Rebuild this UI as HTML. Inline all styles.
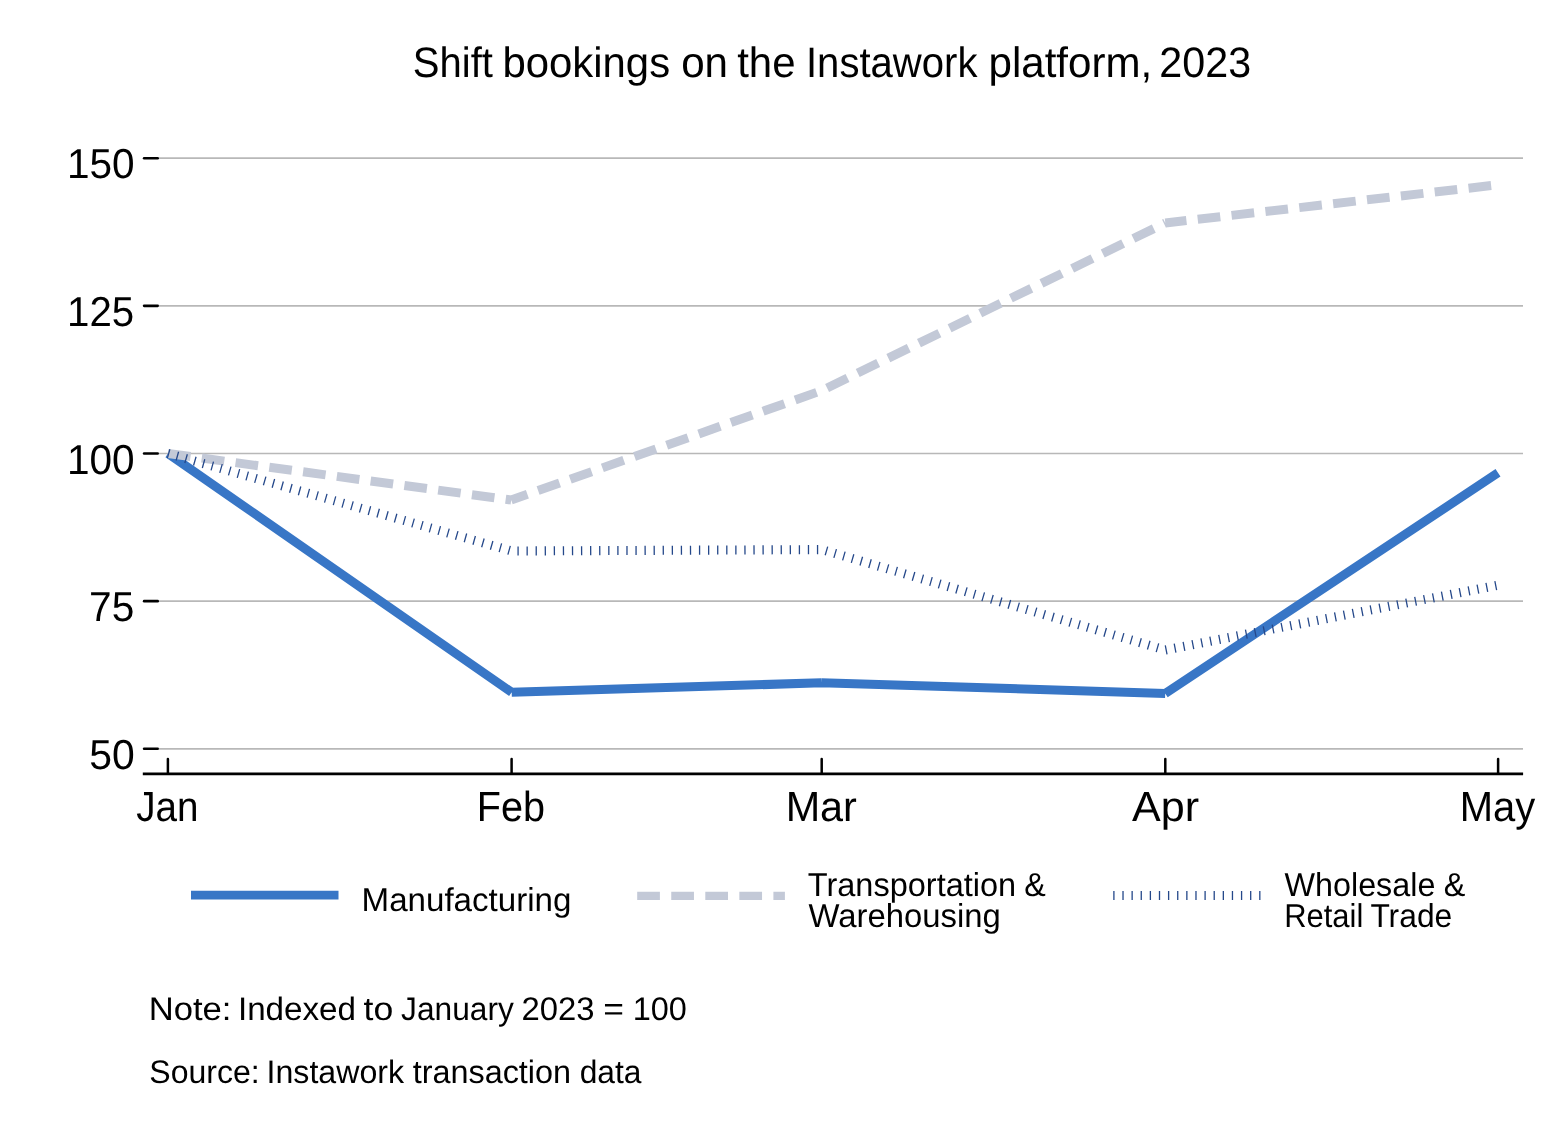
<!DOCTYPE html>
<html lang="en"><head><meta charset="utf-8"><title>Shift bookings on the Instawork platform, 2023</title>
<style>html,body{margin:0;padding:0;background:#fff;overflow:hidden}svg{display:block}text{font-family:"Liberation Sans",sans-serif;fill:#000;text-rendering:geometricPrecision}</style></head><body>
<svg width="1564" height="1138" viewBox="0 0 1564 1138">
<rect width="1564" height="1138" fill="#fff"/>
<line x1="159" x2="1523" y1="158.20" y2="158.20" stroke="#B8B8B8" stroke-width="1.7"/>
<line x1="159" x2="1523" y1="305.85" y2="305.85" stroke="#B8B8B8" stroke-width="1.7"/>
<line x1="159" x2="1523" y1="453.50" y2="453.50" stroke="#B8B8B8" stroke-width="1.7"/>
<line x1="159" x2="1523" y1="601.15" y2="601.15" stroke="#B8B8B8" stroke-width="1.7"/>
<line x1="159" x2="1523" y1="748.80" y2="748.80" stroke="#B8B8B8" stroke-width="1.7"/>
<line x1="144.1" x2="157.7" y1="158.20" y2="158.20" stroke="#000" stroke-width="2.6" stroke-linecap="round"/>
<line x1="144.1" x2="157.7" y1="305.85" y2="305.85" stroke="#000" stroke-width="2.6" stroke-linecap="round"/>
<line x1="144.1" x2="157.7" y1="453.50" y2="453.50" stroke="#000" stroke-width="2.6" stroke-linecap="round"/>
<line x1="144.1" x2="157.7" y1="601.15" y2="601.15" stroke="#000" stroke-width="2.6" stroke-linecap="round"/>
<line x1="144.1" x2="157.7" y1="748.80" y2="748.80" stroke="#000" stroke-width="2.6" stroke-linecap="round"/>
<line x1="142.8" x2="1523.1" y1="773.85" y2="773.85" stroke="#000" stroke-width="2.6"/>
<line x1="167.90" x2="167.90" y1="759.1" y2="773.8" stroke="#000" stroke-width="2.5" stroke-linecap="round"/>
<line x1="511.60" x2="511.60" y1="759.1" y2="773.8" stroke="#000" stroke-width="2.5" stroke-linecap="round"/>
<line x1="821.70" x2="821.70" y1="759.1" y2="773.8" stroke="#000" stroke-width="2.5" stroke-linecap="round"/>
<line x1="1165.30" x2="1165.30" y1="759.1" y2="773.8" stroke="#000" stroke-width="2.5" stroke-linecap="round"/>
<line x1="1498.10" x2="1498.10" y1="759.1" y2="773.8" stroke="#000" stroke-width="2.5" stroke-linecap="round"/>
<path d="M168.00 453.50L511.70 692.30M511.70 692.30L821.50 682.80M821.50 682.80L1165.20 693.40M1165.20 693.40L1498.00 472.80" stroke="#3876C6" stroke-width="9" fill="none"/>
<path d="M168.00 453.50L190.52 456.55M201.77 458.08L224.29 461.13M235.54 462.65L258.06 465.70M269.31 467.23L291.83 470.28M303.07 471.80L325.60 474.85M336.84 476.38L359.37 479.43M370.61 480.95L393.13 484.00M404.38 485.53L426.90 488.58M438.15 490.10L460.67 493.15M471.92 494.68L494.44 497.73M505.68 499.25L511.20 500.00M511.20 500.00L527.39 494.30M538.09 490.53L559.53 482.97M570.23 479.20L591.67 471.65M602.37 467.88L623.81 460.32M634.51 456.55L655.95 449.00M666.65 445.23L688.09 437.68M698.79 433.90L720.23 426.35M730.93 422.58L752.37 415.03M763.07 411.26L784.51 403.70M795.21 399.93L816.65 392.38M827.09 387.97L847.52 378.01M857.72 373.03L878.15 363.07M888.34 358.09L908.77 348.13M918.97 343.15L939.40 333.19M949.60 328.21L970.03 318.25M980.23 313.27L1000.66 303.31M1010.85 298.33L1031.28 288.37M1041.48 283.40L1061.91 273.43M1072.11 268.46L1092.54 258.49M1102.74 253.52L1123.17 243.55M1133.37 238.58L1153.79 228.61M1163.99 223.64L1165.30 223.00M1165.30 223.00L1186.44 220.57M1197.71 219.28L1220.29 216.69M1231.56 215.39L1254.15 212.80M1265.42 211.50L1288.00 208.91M1299.27 207.62L1321.85 205.02M1333.13 203.73L1355.71 201.14M1366.98 199.84L1389.56 197.25M1400.84 195.96L1423.42 193.36M1434.69 192.07L1457.27 189.48M1468.55 188.18L1491.13 185.59" stroke="#C3C9D7" stroke-width="9" fill="none"/>
<path d="M168.00 453.50L169.25 453.85M176.73 455.98L177.98 456.33M185.46 458.45L186.71 458.81M194.19 460.93L195.44 461.29M202.92 463.41L204.17 463.76M211.65 465.89L212.90 466.24M220.38 468.36L221.63 468.72M229.11 470.84L230.36 471.20M237.84 473.32L239.09 473.67M246.57 475.80L247.82 476.15M255.30 478.27L256.55 478.63M264.03 480.75L265.28 481.11M272.76 483.23L274.01 483.58M281.49 485.71L282.74 486.06M290.22 488.18L291.48 488.54M298.95 490.66L300.21 491.01M307.69 493.14L308.94 493.49M316.42 495.61L317.67 495.97M325.15 498.09L326.40 498.45M333.88 500.57L335.13 500.92M342.61 503.05L343.86 503.40M351.34 505.52L352.59 505.88M360.07 508.00L361.32 508.36M368.80 510.48L370.05 510.83M377.53 512.96L378.78 513.31M386.26 515.43L387.51 515.79M394.99 517.91L396.24 518.27M403.72 520.39L404.97 520.74M412.45 522.86L413.70 523.22M421.18 525.34L422.43 525.70M429.91 527.82L431.16 528.17M438.64 530.30L439.89 530.65M447.37 532.77L448.62 533.13M456.10 535.25L457.35 535.61M464.83 537.73L466.08 538.08M473.56 540.21L474.81 540.56M482.29 542.68L483.54 543.04M491.02 545.16L492.27 545.52M499.75 547.64L501.00 547.99M508.48 550.12L509.73 550.47M517.43 550.97L518.73 550.97M526.51 550.93L527.81 550.93M535.58 550.89L536.88 550.89M544.66 550.85L545.96 550.84M553.73 550.81L555.03 550.80M562.81 550.77L564.11 550.76M571.88 550.73L573.18 550.72M580.96 550.69L582.26 550.68M590.03 550.65L591.33 550.64M599.11 550.61L600.41 550.60M608.18 550.56L609.48 550.56M617.26 550.52L618.56 550.52M626.33 550.48L627.63 550.48M635.41 550.44L636.71 550.44M644.48 550.40L645.78 550.39M653.56 550.36L654.86 550.35M662.63 550.32L663.93 550.31M671.71 550.28L673.01 550.27M680.78 550.24L682.08 550.23M689.86 550.20L691.16 550.19M698.93 550.15L700.23 550.15M708.01 550.11L709.31 550.11M717.08 550.07L718.38 550.07M726.16 550.03L727.46 550.03M735.23 549.99L736.53 549.99M744.31 549.95L745.61 549.94M753.38 549.91L754.68 549.90M762.46 549.87L763.76 549.86M771.53 549.83L772.83 549.82M780.61 549.79L781.91 549.78M789.68 549.75L790.98 549.74M798.76 549.70L800.06 549.70M807.83 549.66L809.13 549.66M816.91 549.62L818.21 549.62M825.82 550.75L827.07 551.11M834.53 553.29L835.78 553.66M843.24 555.84L844.49 556.20M851.95 558.39L853.20 558.75M860.66 560.93L861.91 561.30M869.37 563.48L870.62 563.84M878.08 566.03L879.33 566.39M886.79 568.57L888.04 568.94M895.50 571.12L896.75 571.48M904.21 573.67L905.46 574.03M912.92 576.21L914.17 576.58M921.63 578.76L922.88 579.12M930.34 581.31L931.59 581.67M939.05 583.85L940.30 584.22M947.76 586.40L949.01 586.76M956.47 588.95L957.72 589.31M965.18 591.49L966.43 591.86M973.89 594.04L975.14 594.40M982.60 596.58L983.85 596.95M991.31 599.13L992.56 599.50M1000.02 601.68L1001.27 602.04M1008.73 604.22L1009.98 604.59M1017.45 606.77L1018.69 607.14M1026.16 609.32L1027.40 609.68M1034.87 611.86L1036.11 612.23M1043.58 614.41L1044.82 614.78M1052.29 616.96L1053.53 617.32M1061.00 619.50L1062.24 619.87M1069.71 622.05L1070.95 622.42M1078.42 624.60L1079.67 624.96M1087.13 627.14L1088.38 627.51M1095.84 629.69L1097.09 630.06M1104.55 632.24L1105.80 632.60M1113.26 634.78L1114.51 635.15M1121.97 637.33L1123.22 637.70M1130.68 639.88L1131.93 640.24M1139.39 642.42L1140.64 642.79M1148.10 644.97L1149.35 645.34M1156.81 647.52L1158.06 647.88M1165.53 649.96L1166.80 649.71M1174.43 648.22L1175.71 647.97M1183.34 646.49L1184.62 646.24M1192.25 644.75L1193.52 644.50M1201.16 643.02L1202.43 642.77M1210.06 641.28L1211.34 641.03M1218.97 639.55L1220.25 639.30M1227.88 637.81L1229.16 637.56M1236.79 636.08L1238.06 635.83M1245.69 634.34L1246.97 634.09M1254.60 632.61L1255.88 632.36M1263.51 630.87L1264.79 630.62M1272.42 629.14L1273.69 628.89M1281.33 627.40L1282.60 627.15M1290.23 625.67L1291.51 625.42M1299.14 623.93L1300.42 623.68M1308.05 622.20L1309.32 621.95M1316.96 620.46L1318.23 620.21M1325.86 618.73L1327.14 618.48M1334.77 616.99L1336.05 616.74M1343.68 615.26L1344.95 615.01M1352.59 613.52L1353.86 613.27M1361.49 611.79L1362.77 611.54M1370.40 610.05L1371.68 609.80M1379.31 608.32L1380.58 608.07M1388.22 606.58L1389.49 606.33M1397.12 604.85L1398.40 604.60M1406.03 603.11L1407.31 602.86M1414.94 601.38L1416.22 601.13M1423.85 599.64L1425.12 599.39M1432.75 597.91L1434.03 597.66M1441.66 596.17L1442.94 595.92M1450.57 594.44L1451.85 594.19M1459.48 592.70L1460.75 592.45M1468.38 590.97L1469.66 590.72M1477.29 589.23L1478.57 588.98M1486.20 587.50L1487.48 587.25M1495.11 585.76L1496.38 585.51" stroke="#25488A" stroke-width="9.1" fill="none"/>
<line x1="191" x2="338.5" y1="895.15" y2="895.15" stroke="#3876C6" stroke-width="8.6"/>
<path d="M637.20 895.90L659.90 895.90M671.25 895.90L693.95 895.90M705.30 895.90L728.00 895.90M739.35 895.90L762.05 895.90M773.40 895.90L784.90 895.90" stroke="#C3C9D7" stroke-width="8.1" fill="none"/>
<path d="M1113.25 895.40L1114.55 895.40M1122.37 895.40L1123.67 895.40M1131.49 895.40L1132.79 895.40M1140.61 895.40L1141.91 895.40M1149.73 895.40L1151.03 895.40M1158.85 895.40L1160.15 895.40M1167.97 895.40L1169.27 895.40M1177.09 895.40L1178.39 895.40M1186.21 895.40L1187.51 895.40M1195.33 895.40L1196.63 895.40M1204.45 895.40L1205.75 895.40M1213.57 895.40L1214.87 895.40M1222.69 895.40L1223.99 895.40M1231.81 895.40L1233.11 895.40M1240.93 895.40L1242.23 895.40M1250.05 895.40L1251.35 895.40M1259.17 895.40L1260.47 895.40" stroke="#25488A" stroke-width="9" fill="none"/>
<text id="title" y="77.30" font-size="42.6"><tspan id="title_0" x="412.87" textLength="80.09" lengthAdjust="spacingAndGlyphs">Shift</tspan> <tspan id="title_1" x="502.45" textLength="167.67" lengthAdjust="spacingAndGlyphs">bookings</tspan> <tspan id="title_2" x="681.17" textLength="46.87" lengthAdjust="spacingAndGlyphs">on</tspan> <tspan id="title_3" x="737.14" textLength="58.38" lengthAdjust="spacingAndGlyphs">the</tspan> <tspan id="title_4" x="805.98" textLength="171.51" lengthAdjust="spacingAndGlyphs">Instawork</tspan> <tspan id="title_5" x="988.47" textLength="163.76" lengthAdjust="spacingAndGlyphs">platform,</tspan> <tspan id="title_6" x="1159.35" textLength="91.76" lengthAdjust="spacingAndGlyphs">2023</tspan></text>
<text id="y150" y="178.20" font-size="41.8"><tspan id="y150_0" x="66.93" textLength="67.73" lengthAdjust="spacingAndGlyphs">150</tspan></text>
<text id="y125" y="325.85" font-size="41.8"><tspan id="y125_0" x="67.00" textLength="67.17" lengthAdjust="spacingAndGlyphs">125</tspan></text>
<text id="y100" y="473.50" font-size="41.8"><tspan id="y100_0" x="66.93" textLength="67.73" lengthAdjust="spacingAndGlyphs">100</tspan></text>
<text id="y75" y="621.15" font-size="41.8"><tspan id="y75_0" x="89.12" textLength="45.19" lengthAdjust="spacingAndGlyphs">75</tspan></text>
<text id="y50" y="768.80" font-size="41.8"><tspan id="y50_0" x="89.28" textLength="45.48" lengthAdjust="spacingAndGlyphs">50</tspan></text>
<text id="xJan" y="821.10" font-size="42.0"><tspan id="xJan_0" x="136.17" textLength="62.23" lengthAdjust="spacingAndGlyphs">Jan</tspan></text>
<text id="xFeb" y="821.10" font-size="42.0"><tspan id="xFeb_0" x="476.85" textLength="68.17" lengthAdjust="spacingAndGlyphs">Feb</tspan></text>
<text id="xMar" y="821.10" font-size="42.0"><tspan id="xMar_0" x="785.65" textLength="71.25" lengthAdjust="spacingAndGlyphs">Mar</tspan></text>
<text id="xApr" y="821.10" font-size="42.0"><tspan id="xApr_0" x="1132.04" textLength="66.99" lengthAdjust="spacingAndGlyphs">Apr</tspan></text>
<text id="xMay" y="821.10" font-size="42.0"><tspan id="xMay_0" x="1459.74" textLength="75.50" lengthAdjust="spacingAndGlyphs">May</tspan></text>
<text id="lMan" y="910.70" font-size="33.0"><tspan id="lMan_0" x="361.54" textLength="209.93" lengthAdjust="spacingAndGlyphs">Manufacturing</tspan></text>
<text id="lTra" y="895.90" font-size="33.0"><tspan id="lTra_0" x="807.80" textLength="208.37" lengthAdjust="spacingAndGlyphs">Transportation</tspan> <tspan id="lTra_1" x="1024.37" textLength="21.53" lengthAdjust="spacingAndGlyphs">&amp;</tspan></text>
<text id="lWar" y="926.60" font-size="33.0"><tspan id="lWar_0" x="808.46" textLength="192.26" lengthAdjust="spacingAndGlyphs">Warehousing</tspan></text>
<text id="lWho" y="895.90" font-size="33.0"><tspan id="lWho_0" x="1284.46" textLength="150.98" lengthAdjust="spacingAndGlyphs">Wholesale</tspan> <tspan id="lWho_1" x="1443.87" textLength="21.63" lengthAdjust="spacingAndGlyphs">&amp;</tspan></text>
<text id="lRet" y="926.60" font-size="33.0"><tspan id="lRet_0" x="1284.20" textLength="79.15" lengthAdjust="spacingAndGlyphs">Retail</tspan> <tspan id="lRet_1" x="1370.38" textLength="81.87" lengthAdjust="spacingAndGlyphs">Trade</tspan></text>
<text id="note" y="1020.00" font-size="32.6"><tspan id="note_0" x="148.69" textLength="82.74" lengthAdjust="spacingAndGlyphs">Note:</tspan> <tspan id="note_1" x="237.94" textLength="118.09" lengthAdjust="spacingAndGlyphs">Indexed</tspan> <tspan id="note_2" x="363.58" textLength="29.70" lengthAdjust="spacingAndGlyphs">to</tspan> <tspan id="note_3" x="401.09" textLength="112.73" lengthAdjust="spacingAndGlyphs">January</tspan> <tspan id="note_4" x="521.38" textLength="73.06" lengthAdjust="spacingAndGlyphs">2023</tspan> <tspan id="note_5" x="603.30" textLength="20.68" lengthAdjust="spacingAndGlyphs">=</tspan> <tspan id="note_6" x="632.75" textLength="54.18" lengthAdjust="spacingAndGlyphs">100</tspan></text>
<text id="src" y="1083.00" font-size="32.6"><tspan id="src_0" x="149.31" textLength="110.33" lengthAdjust="spacingAndGlyphs">Source:</tspan> <tspan id="src_1" x="266.58" textLength="137.50" lengthAdjust="spacingAndGlyphs">Instawork</tspan> <tspan id="src_2" x="412.67" textLength="158.44" lengthAdjust="spacingAndGlyphs">transaction</tspan> <tspan id="src_3" x="579.63" textLength="61.79" lengthAdjust="spacingAndGlyphs">data</tspan></text>
</svg></body></html>
